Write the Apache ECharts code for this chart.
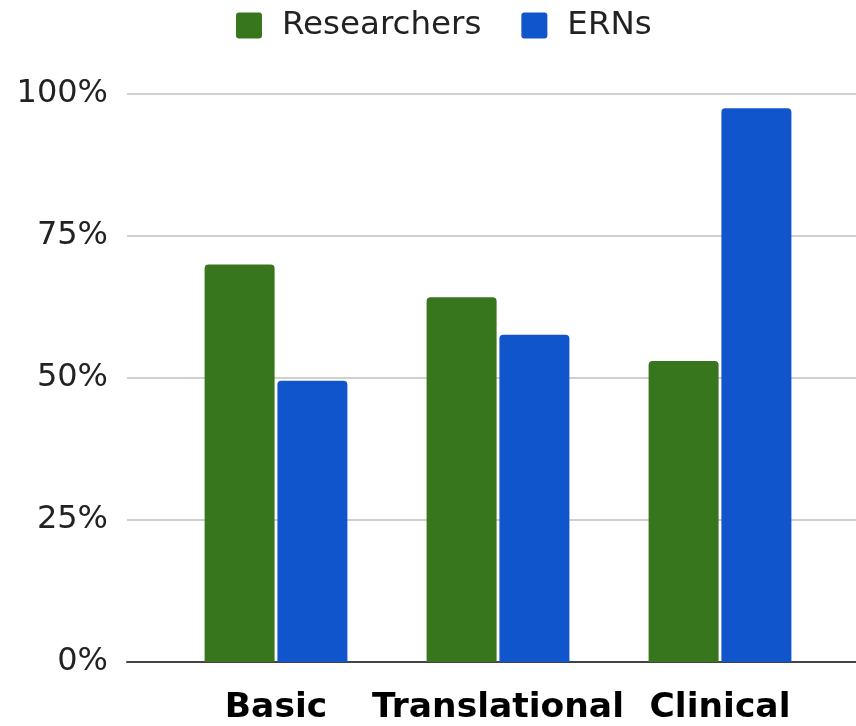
<!DOCTYPE html>
<html>
<head>
<meta charset="utf-8">
<script src="https://cdn.jsdelivr.net/npm/echarts@6/dist/echarts.min.js"></script>
<style>
html,body{margin:0;padding:0;background:#fff;}
#c{width:856px;height:726px;}
</style>
</head>
<body>
<div id="c"></div>
<script>
const categories = ['Basic', 'Translational', 'Clinical'];
const researchers = [70.0, 64.2, 53.0];
const erns = [49.5, 57.6, 97.5];
const yTicks = [0, 25, 50, 75, 100];

const chart = echarts.init(document.getElementById('c'));
const font = 'DejaVu Sans';
chart.setOption({
  animation: false,
  legend: {
    left: 236,
    top: 9,
    padding: 0,
    itemWidth: 26,
    itemHeight: 26,
    itemGap: 40,
    icon: 'path://M3,0 H23 Q26,0 26,3 V23 Q26,26 23,26 H3 Q0,26 0,23 V3 Q0,0 3,0 Z',
    textStyle: { fontFamily: font, fontSize: 32.5, color: '#222', padding: [0, 0, 0, 15] },
    data: ['Researchers', 'ERNs']
  },
  grid: [
    { left: 127, right: 0, top: 94, bottom: 64, containLabel: false },
    { left: 165, right: 25, top: 94, bottom: 64, containLabel: false }
  ],
  xAxis: [
    {
      gridIndex: 0, type: 'value', min: 0, max: 1,
      axisLine: { show: true, lineStyle: { color: '#444', width: 2 } },
      axisTick: { show: false }, axisLabel: { show: false }, splitLine: { show: false }
    },
    {
      gridIndex: 1, type: 'category', data: categories,
      axisLine: { show: false }, axisTick: { show: false },
      axisLabel: { interval: 0, fontFamily: font, fontSize: 34.5, fontWeight: 'bold', color: '#000', margin: 29 }
    }
  ],
  yAxis: [
    {
      gridIndex: 0, type: 'value', min: yTicks[0], max: yTicks[yTicks.length - 1], interval: 25,
      axisLine: { show: false }, axisTick: { show: false },
      axisLabel: { fontFamily: font, fontSize: 32, color: '#222', margin: 19, formatter: v => v + '%' },
      splitLine: { lineStyle: { color: '#d0d0d0', width: 2 } }
    },
    {
      gridIndex: 1, type: 'value', min: yTicks[0], max: yTicks[yTicks.length - 1], interval: 25,
      show: false, splitLine: { show: false }
    }
  ],
  series: [
    {
      name: 'Researchers', type: 'bar', xAxisIndex: 1, yAxisIndex: 1,
      data: researchers, barWidth: 70, barGap: '4%',
      itemStyle: { color: '#38761d', borderRadius: [4, 4, 0, 0] }
    },
    {
      name: 'ERNs', type: 'bar', xAxisIndex: 1, yAxisIndex: 1,
      data: erns, barWidth: 70, barGap: '4%',
      itemStyle: { color: '#1155cc', borderRadius: [4, 4, 0, 0] }
    }
  ]
});
</script>
</body>
</html>
